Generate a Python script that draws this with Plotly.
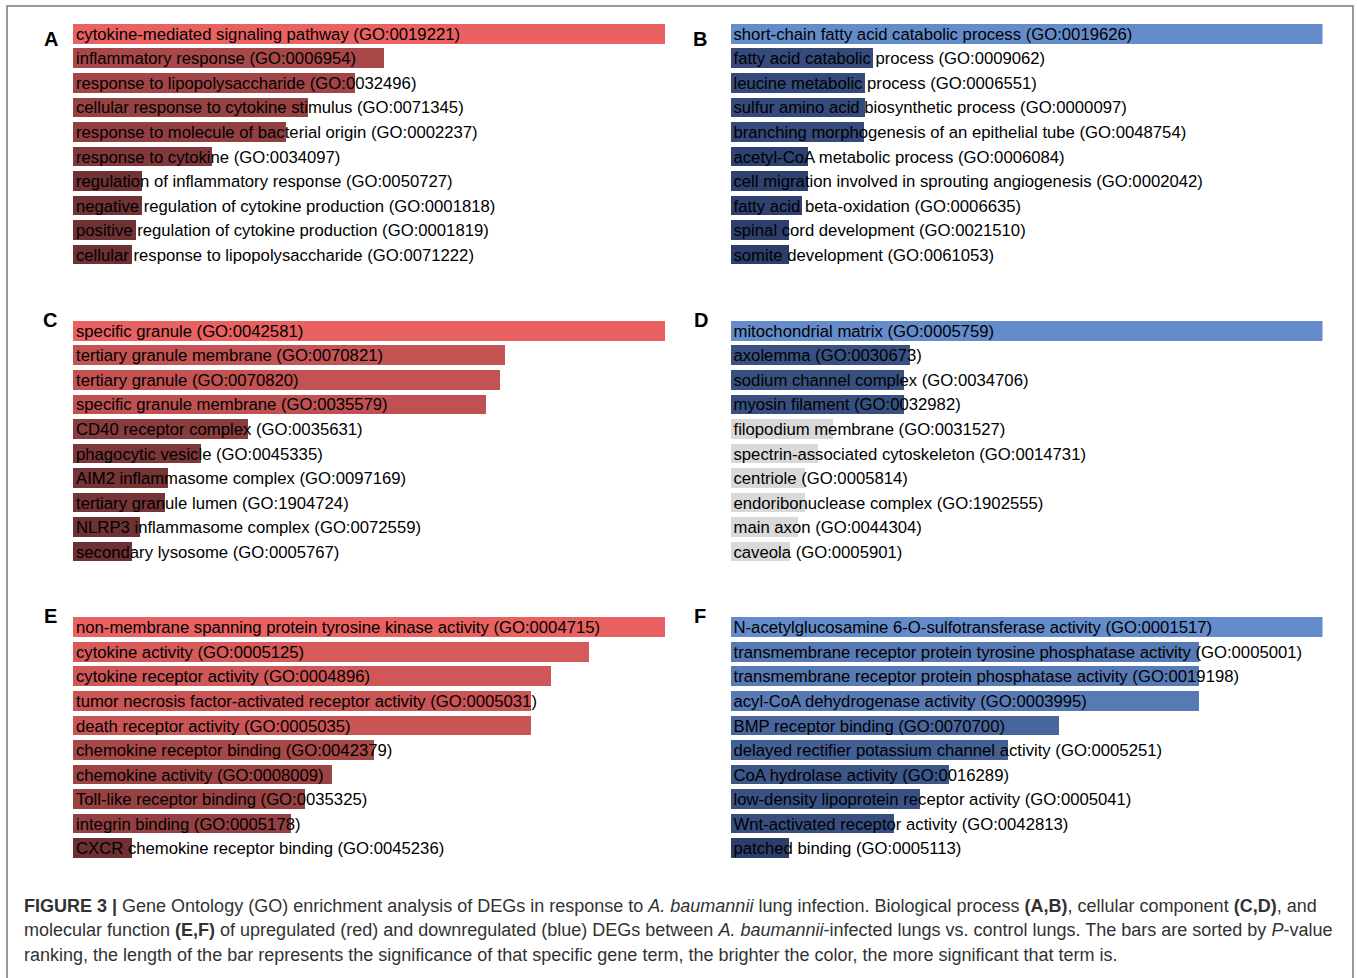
import plotly.graph_objects as go

W, H = 1357, 978

# ---------------- data ----------------
terms_A = [
    "cytokine-mediated signaling pathway (GO:0019221)",
    "inflammatory response (GO:0006954)",
    "response to lipopolysaccharide (GO:0032496)",
    "cellular response to cytokine stimulus (GO:0071345)",
    "response to molecule of bacterial origin (GO:0002237)",
    "response to cytokine (GO:0034097)",
    "regulation of inflammatory response (GO:0050727)",
    "negative regulation of cytokine production (GO:0001818)",
    "positive regulation of cytokine production (GO:0001819)",
    "cellular response to lipopolysaccharide (GO:0071222)",
]
values_A = [100, 52.6, 47.6, 39.7, 35.9, 23.4, 11.7, 11.6, 10.6, 9.9]

terms_B = [
    "short-chain fatty acid catabolic process (GO:0019626)",
    "fatty acid catabolic process (GO:0009062)",
    "leucine metabolic process (GO:0006551)",
    "sulfur amino acid biosynthetic process (GO:0000097)",
    "branching morphogenesis of an epithelial tube (GO:0048754)",
    "acetyl-CoA metabolic process (GO:0006084)",
    "cell migration involved in sprouting angiogenesis (GO:0002042)",
    "fatty acid beta-oxidation (GO:0006635)",
    "spinal cord development (GO:0021510)",
    "somite development (GO:0061053)",
]
values_B = [100, 24.1, 22.7, 22.8, 22.5, 13.1, 13.1, 12.1, 9.9, 9.9]

terms_C = [
    "specific granule (GO:0042581)",
    "tertiary granule membrane (GO:0070821)",
    "tertiary granule (GO:0070820)",
    "specific granule membrane (GO:0035579)",
    "CD40 receptor complex (GO:0035631)",
    "phagocytic vesicle (GO:0045335)",
    "AIM2 inflammasome complex (GO:0097169)",
    "tertiary granule lumen (GO:1904724)",
    "NLRP3 inflammasome complex (GO:0072559)",
    "secondary lysosome (GO:0005767)",
]
values_C = [100, 73.0, 72.2, 69.7, 29.5, 21.6, 16.0, 15.5, 11.3, 9.9]

terms_D = [
    "mitochondrial matrix (GO:0005759)",
    "axolemma (GO:0030673)",
    "sodium channel complex (GO:0034706)",
    "myosin filament (GO:0032982)",
    "filopodium membrane (GO:0031527)",
    "spectrin-associated cytoskeleton (GO:0014731)",
    "centriole (GO:0005814)",
    "endoribonuclease complex (GO:1902555)",
    "main axon (GO:0044304)",
    "caveola (GO:0005901)",
]
values_D = [100, 30.3, 29.3, 29.3, 17.3, 14.7, 12.5, 12.5, 11.4, 10.0]
significant_D = [True, True, True, True, False, False, False, False, False, False]

terms_E = [
    "non-membrane spanning protein tyrosine kinase activity (GO:0004715)",
    "cytokine activity (GO:0005125)",
    "cytokine receptor activity (GO:0004896)",
    "tumor necrosis factor-activated receptor activity (GO:0005031)",
    "death receptor activity (GO:0005035)",
    "chemokine receptor binding (GO:0042379)",
    "chemokine activity (GO:0008009)",
    "Toll-like receptor binding (GO:0035325)",
    "integrin binding (GO:0005178)",
    "CXCR chemokine receptor binding (GO:0045236)",
]
values_E = [100, 87.2, 80.8, 77.3, 77.3, 50.8, 43.7, 39.2, 36.8, 9.9]

terms_F = [
    "N-acetylglucosamine 6-O-sulfotransferase activity (GO:0001517)",
    "transmembrane receptor protein tyrosine phosphatase activity (GO:0005001)",
    "transmembrane receptor protein phosphatase activity (GO:0019198)",
    "acyl-CoA dehydrogenase activity (GO:0003995)",
    "BMP receptor binding (GO:0070700)",
    "delayed rectifier potassium channel activity (GO:0005251)",
    "CoA hydrolase activity (GO:0016289)",
    "low-density lipoprotein receptor activity (GO:0005041)",
    "Wnt-activated receptor activity (GO:0042813)",
    "patched binding (GO:0005113)",
]
values_F = [100, 79.1, 79.1, 79.1, 55.5, 46.8, 36.9, 32.0, 27.6, 9.9]

panel_letters = ["A", "B", "C", "D", "E", "F"]

# ---------------- styling ----------------
FONT = "Liberation Sans, Arial, Helvetica, sans-serif"
RED_SCALE = [[0, "rgb(96,44,46)"], [1, "rgb(233,97,97)"]]
BLUE_SCALE = [[0, "rgb(38,55,98)"], [1, "rgb(101,140,202)"]]
GRAY = "rgb(217,217,217)"

COL_X = [(73.0, 665.0), (730.5, 1322.5)]
ROW_TOP = [21.5, 318.5, 615.0]
ROW_STEP = 24.52
TEXT_PAD_PX = 3.0
TEXT_DROP_PX = 2.0
LETTER_POS = [(51, 39.5), (700, 39.5), (50, 320.5), (701, 320.5), (50, 615.5), (700, 616)]

panels = [
    (terms_A, values_A, None, RED_SCALE),
    (terms_B, values_B, None, BLUE_SCALE),
    (terms_C, values_C, None, RED_SCALE),
    (terms_D, values_D, significant_D, BLUE_SCALE),
    (terms_E, values_E, None, RED_SCALE),
    (terms_F, values_F, None, BLUE_SCALE),
]

fig = go.Figure()
layout_axes = {}
annotations = []
n_panels = len(panels)

hidden = dict(showgrid=False, zeroline=False, showticklabels=False,
              showline=False, ticks="", fixedrange=True)

for i, (terms, vals, sig, scale) in enumerate(panels):
    col, row = i % 2, i // 2
    suffix = "" if i == 0 else str(i + 1)
    tsuffix = str(n_panels + i + 1)
    xa, ya, yt = "x" + suffix, "y" + suffix, "y" + tsuffix
    if sig is None:
        sig = [True] * len(vals)
    vmax = max(vals)
    x0, x1 = COL_X[col]
    s_terms = [t for t, s in zip(terms, sig) if s]
    s_vals = [v for v, s in zip(vals, sig) if s]
    n_terms = [t for t, s in zip(terms, sig) if not s]
    n_vals = [v for v, s in zip(vals, sig) if not s]
    fig.add_trace(go.Bar(
        x=s_vals, y=s_terms, orientation="h", xaxis=xa, yaxis=ya,
        width=0.8,
        marker=dict(color=s_vals, colorscale=scale, cmin=0, cmax=vmax,
                    line=dict(width=0)),
        hoverinfo="skip", showlegend=False,
    ))
    if n_vals:
        fig.add_trace(go.Bar(
            x=n_vals, y=n_terms, orientation="h", xaxis=xa, yaxis=ya,
            width=0.8, marker=dict(color=GRAY, line=dict(width=0)),
            hoverinfo="skip", showlegend=False,
        ))
    pad = vmax * TEXT_PAD_PX / (x1 - x0)
    fig.add_trace(go.Scatter(
        x=[pad] * len(terms), y=terms, mode="text", text=terms,
        textposition="middle right", xaxis=xa, yaxis=yt,
        textfont=dict(family=FONT, size=16.7, color="black"),
        cliponaxis=False, hoverinfo="skip", showlegend=False,
    ))
    top = ROW_TOP[row]
    bottom = top + ROW_STEP * len(terms)
    layout_axes["xaxis" + suffix] = dict(
        domain=[x0 / W, x1 / W], range=[0, vmax], anchor=ya, **hidden)
    ycommon = dict(range=[len(terms) - 0.5, -0.5], type="category",
                   categoryorder="array", categoryarray=terms, anchor=xa, **hidden)
    layout_axes["yaxis" + suffix] = dict(
        domain=[1 - bottom / H, 1 - top / H], **ycommon)
    layout_axes["yaxis" + tsuffix] = dict(
        domain=[1 - (bottom + TEXT_DROP_PX) / H, 1 - (top + TEXT_DROP_PX) / H], **ycommon)
    lx, ly = LETTER_POS[i]
    annotations.append(dict(
        text="<b>%s</b>" % panel_letters[i], x=lx / W, y=1 - ly / H,
        xref="paper", yref="paper", xanchor="center", yanchor="middle",
        showarrow=False, font=dict(family=FONT, size=20, color="black"),
    ))

caption_lines = [
    "<b>FIGURE 3 |</b> Gene Ontology (GO) enrichment analysis of DEGs in response to <i>A. baumannii</i> lung infection. "
    "Biological process <b>(A,B)</b>, cellular component <b>(C,D)</b>, and",
    "molecular function <b>(E,F)</b> of upregulated (red) and downregulated (blue) DEGs between <i>A. baumannii</i>-infected "
    "lungs vs. control lungs. The bars are sorted by <i>P</i>-value",
    "ranking, the length of the bar represents the significance of that specific gene term, the brighter the color, "
    "the more significant that term is.",
]
caption_y = [906, 930, 954.5]
for line, cy in zip(caption_lines, caption_y):
    annotations.append(dict(
        text=line, x=22 / W, y=1 - cy / H, xref="paper", yref="paper",
        xanchor="left", yanchor="middle", showarrow=False, align="left",
        font=dict(family=FONT, size=18, color="rgb(50,50,50)"),
    ))

frame_path = "M {l},0 L {l},{t} L {r},{t} L {r},0".format(
    l=7 / W, r=1353 / W, t=1 - 6 / H)

fig.update_layout(
    width=W, height=H,
    margin=dict(l=0, r=0, t=0, b=0),
    paper_bgcolor="white", plot_bgcolor="rgba(0,0,0,0)",
    bargap=0, showlegend=False,
    annotations=annotations,
    shapes=[dict(type="path", path=frame_path, xref="paper", yref="paper",
                 line=dict(color="rgb(120,120,120)", width=1.5))],
    **layout_axes,
)

fig.write_html(
    "out.html",
    config={"displayModeBar": False, "staticPlot": True},
    post_script="document.body.style.margin='0px';document.body.style.overflow='hidden';",
)
